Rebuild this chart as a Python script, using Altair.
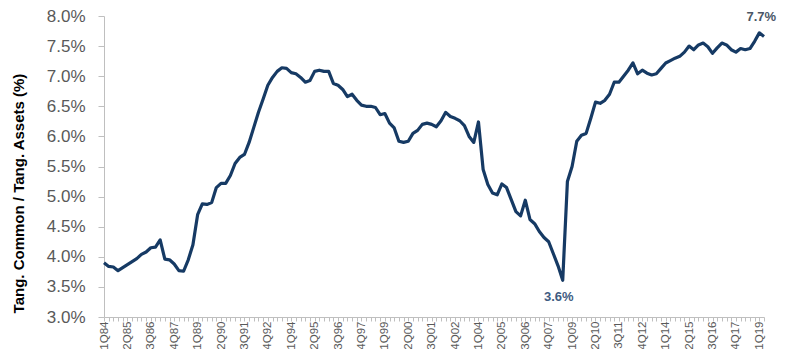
import json
import altair as alt
import pandas as pd

# Tangible common equity / tangible assets (%), quarterly 1Q84 .. 2Q19
ratio = [
    3.90, 3.84, 3.83, 3.77, 3.82, 3.87, 3.92, 3.97, 4.04, 4.08,
    4.15, 4.16, 4.28, 3.96, 3.95, 3.88, 3.77, 3.76, 3.95, 4.20,
    4.70, 4.88, 4.87, 4.90, 5.15, 5.22, 5.22, 5.35, 5.55, 5.65,
    5.70, 5.90, 6.15, 6.40, 6.62, 6.85, 6.98, 7.08, 7.14, 7.13,
    7.06, 7.04, 6.98, 6.90, 6.93, 7.08, 7.10, 7.08, 7.08, 6.88,
    6.85, 6.78, 6.66, 6.70, 6.60, 6.52, 6.50, 6.50, 6.48, 6.36,
    6.38, 6.22, 6.14, 5.92, 5.90, 5.92, 6.05, 6.10, 6.20, 6.22,
    6.20, 6.16, 6.26, 6.40, 6.33, 6.30, 6.26, 6.18, 6.00, 5.90,
    6.24, 5.45, 5.20, 5.06, 5.03, 5.21, 5.15, 4.95, 4.75, 4.68,
    4.94, 4.62, 4.55, 4.42, 4.32, 4.25, 4.05, 3.85, 3.61, 5.25,
    5.50, 5.92, 6.02, 6.05, 6.30, 6.57, 6.55, 6.60, 6.70, 6.90,
    6.90, 7.00, 7.10, 7.22, 7.04, 7.10, 7.05, 7.02, 7.04, 7.13,
    7.22, 7.26, 7.30, 7.33, 7.40, 7.50, 7.44, 7.52, 7.55, 7.49,
    7.38, 7.47, 7.55, 7.52, 7.44, 7.40, 7.46, 7.44, 7.46, 7.58,
    7.72, 7.66,
]
quarters = [f"{i % 4 + 1}Q{(84 + i // 4) % 100:02d}" for i in range(len(ratio))]
shown_labels = quarters[::5]
y_ticks = [3.0, 3.5, 4.0, 4.5, 5.0, 5.5, 6.0, 6.5, 7.0, 7.5, 8.0]

df = pd.DataFrame({"quarter": quarters, "ratio": ratio})

i_min = ratio.index(min(ratio))
i_max = ratio.index(max(ratio))
ann_min = pd.DataFrame({"quarter": [quarters[i_min]], "ratio": [ratio[i_min]],
                        "label": [f"{ratio[i_min]:.1f}%"]})
ann_max = pd.DataFrame({"quarter": [quarters[i_max]], "ratio": [ratio[i_max]],
                        "label": [f"{ratio[i_max]:.1f}%"]})

FONT = "Liberation Sans, Arial, sans-serif"

x_enc = alt.X(
    "quarter:O",
    sort=quarters,
    scale=alt.Scale(type="point", padding=0),
    axis=alt.Axis(
        title=None,
        labelAngle=270,
        labelExpr="indexof(" + json.dumps(shown_labels).replace('"', "'") + ", datum.value) >= 0 ? datum.value : ''",
        labelOverlap=False,
        labelFont=FONT,
        labelFontSize=11.5,
        labelColor="#595959",
        labelPadding=0,
        tickSize=4,
        tickColor="#BFBFBF",
        domainColor="#BFBFBF",
        grid=False,
    ),
)
y_enc = alt.Y(
    "ratio:Q",
    scale=alt.Scale(domain=[3, 8], nice=False, zero=False),
    axis=alt.Axis(
        values=y_ticks,
        labelExpr="format(datum.value, '.1f') + '%'",
        labelOverlap=False,
        labelFont=FONT,
        labelFontSize=17,
        labelColor="#595959",
        labelPadding=13,
        tickSize=6,
        tickColor="#BFBFBF",
        domainColor="#BFBFBF",
        grid=False,
        title="Tang. Common / Tang. Assets (%)",
        titleFont=FONT,
        titleFontSize=15,
        titleFontWeight="bold",
        titleColor="#000000",
        titleAngle=270,
        titleBaseline="middle",
        titleX=-86,
        titleY=177,
    ),
)

line = alt.Chart(df).mark_line(color="#163A64", strokeWidth=3.2, strokeJoin="round").encode(
    x=x_enc, y=y_enc
)

t_min = alt.Chart(ann_min).mark_text(
    font=FONT, fontSize=13, fontWeight="bold", color="#3F5C82", dy=17, dx=-4
).encode(x=x_enc, y=y_enc, text="label:N")

t_max = alt.Chart(ann_max).mark_text(
    font=FONT, fontSize=13, fontWeight="bold", color="#4A5666", dy=-16, dx=2
).encode(x=x_enc, y=y_enc, text="label:N")

chart = (
    alt.layer(line, t_min, t_max)
    .properties(
        width=660,
        height=301,
        autosize=alt.AutoSizeParams(type="none"),
        padding={"left": 96, "top": 8, "right": 16, "bottom": 32},
        background="white",
    )
    .configure_view(stroke=None)
)

chart.save("out.html", embed_options={"renderer": "svg", "actions": False})
